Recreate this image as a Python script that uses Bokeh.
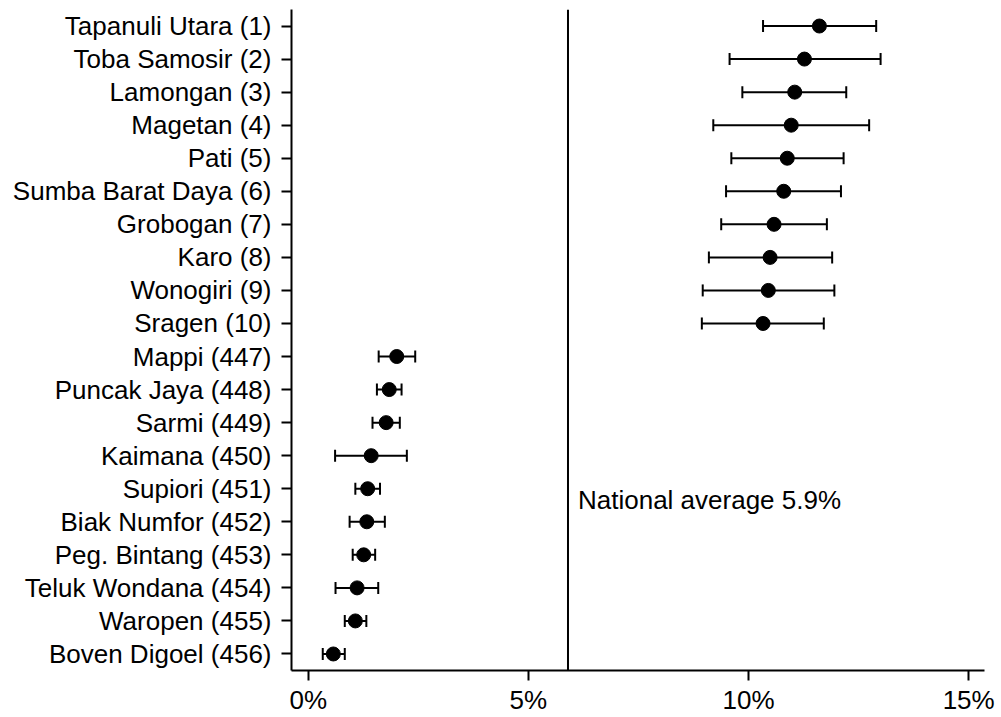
from bokeh.plotting import figure
from bokeh.models import (ColumnDataSource, Range1d, FixedTicker, Whisker, TeeHead, Span, Label)
from bokeh.embed import file_html
from bokeh.resources import INLINE

districts = ["Tapanuli Utara (1)", "Toba Samosir (2)", "Lamongan (3)", "Magetan (4)", "Pati (5)",
             "Sumba Barat Daya (6)", "Grobogan (7)", "Karo (8)", "Wonogiri (9)", "Sragen (10)",
             "Mappi (447)", "Puncak Jaya (448)", "Sarmi (449)", "Kaimana (450)", "Supiori (451)",
             "Biak Numfor (452)", "Peg. Bintang (453)", "Teluk Wondana (454)", "Waropen (455)",
             "Boven Digoel (456)"]
estimate = [11.61, 11.27, 11.05, 10.97, 10.88, 10.80, 10.58, 10.49, 10.45, 10.33,
            2.01, 1.84, 1.77, 1.43, 1.35, 1.33, 1.26, 1.11, 1.07, 0.57]
ci_lower = [10.33, 9.57, 9.86, 9.20, 9.61, 9.49, 9.38, 9.10, 8.96, 8.94,
            1.60, 1.56, 1.46, 0.61, 1.07, 0.94, 1.01, 0.62, 0.83, 0.33]
ci_upper = [12.90, 13.00, 12.22, 12.74, 12.16, 12.10, 11.78, 11.90, 11.95, 11.71,
            2.43, 2.12, 2.08, 2.24, 1.63, 1.74, 1.52, 1.59, 1.32, 0.83]
x_ticks = [0, 5, 10, 15]
x_tick_labels = ["0%", "5%", "10%", "15%"]
national_average = 5.9
national_label = "National average 5.9%"

FONT = "Liberation Sans"
FS = "26px"

rank = list(range(1, len(districts) + 1))
src = ColumnDataSource(dict(y=rank, x=estimate, lo=ci_lower, hi=ci_upper))

p = figure(width=995, height=717, output_backend="svg", toolbar_location=None,
           x_range=Range1d(-0.38, 15.36), y_range=Range1d(20.5, 0.5),
           min_border_left=291, min_border_right=11, min_border_top=9, min_border_bottom=44)
p.outline_line_color = None
p.xgrid.visible = False
p.ygrid.visible = False
p.background_fill_color = "white"
p.border_fill_color = "white"

for ax in (p.xaxis[0], p.yaxis[0]):
    ax.axis_line_width = 2
    ax.axis_line_color = "black"
    ax.major_tick_line_width = 2
    ax.major_tick_line_color = "black"
    ax.major_tick_in = 0
    ax.major_tick_out = 10
    ax.minor_tick_line_color = None
    ax.major_label_text_font = FONT
    ax.major_label_text_font_size = FS
    ax.major_label_text_color = "black"

p.xaxis[0].ticker = FixedTicker(ticks=x_ticks)
p.xaxis[0].major_label_overrides = {t: l for t, l in zip(x_ticks, x_tick_labels)}
p.xaxis[0].major_label_standoff = 4
p.xaxis[0].major_label_text_line_height = 0.9

p.yaxis[0].ticker = FixedTicker(ticks=rank)
p.yaxis[0].major_label_overrides = {r: d for r, d in zip(rank, districts)}
p.yaxis[0].major_label_standoff = 10

p.add_layout(Span(location=national_average, dimension="height", line_color="black", line_width=2))

w = Whisker(source=src, base="y", lower="lo", upper="hi", dimension="width",
            line_color="black", line_width=2,
            upper_head=TeeHead(size=12, line_width=2, line_color="black"),
            lower_head=TeeHead(size=12, line_width=2, line_color="black"))
p.add_layout(w)

p.scatter("x", "y", source=src, size=14, color="black")

p.add_layout(Label(x=national_average, y=15.33, x_offset=10, text=national_label,
                   text_font=FONT, text_font_size=FS, text_color="black",
                   text_baseline="middle", text_align="left"))

open("out.html", "w").write(file_html(p, INLINE))
